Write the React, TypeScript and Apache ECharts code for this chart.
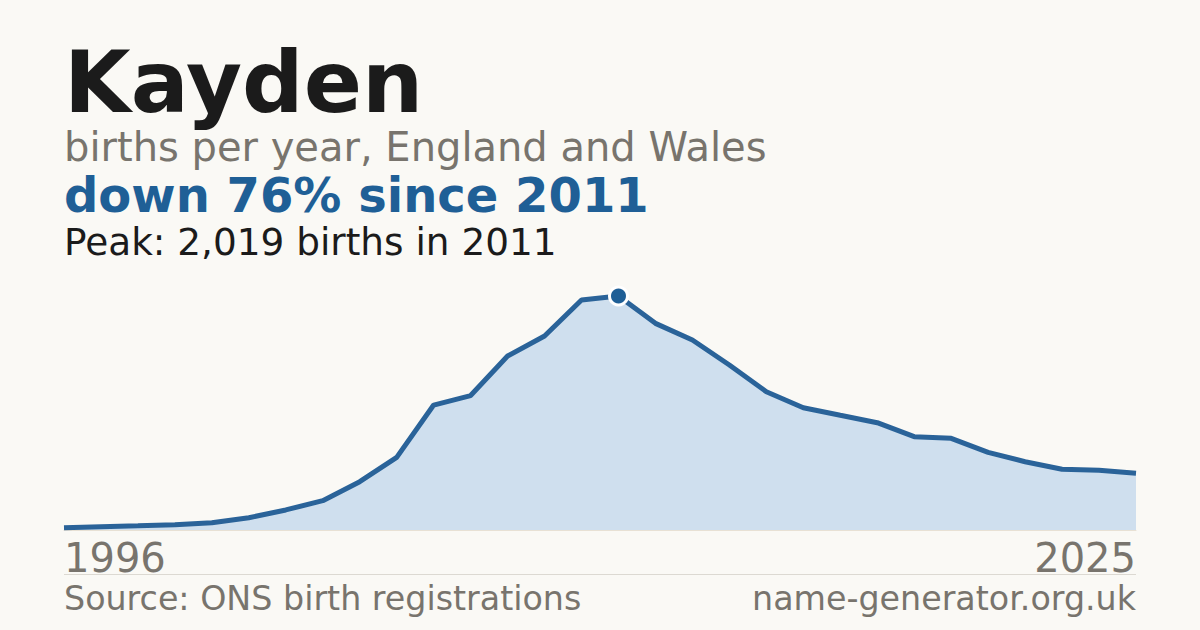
import React, { useEffect, useRef } from 'react';
import * as echarts from 'echarts';

const years = Array.from({ length: 30 }, (_, i) => String(1996 + i));
const births = [
  20, 29, 37, 46, 63, 106, 173, 253, 417, 627, 1078, 1160, 1501, 1674, 1984, 2019, 1783, 1639,
  1424, 1193, 1055, 990, 926, 805, 791, 670, 589, 524, 516, 490,
];
const peakYear = '2011';
const peakValue = 2019;

const BG = '#faf9f5';
const BLUE = '#1f5f96';
const GREY = '#78746d';
const FONT = '"DejaVu Sans", sans-serif';

const App = () => {
  const chartRef = useRef<HTMLDivElement>(null);

  useEffect(() => {
    if (!chartRef.current) return;
    const chart = echarts.init(chartRef.current, null, { renderer: 'svg' });

    chart.setOption({
      animation: false,
      backgroundColor: BG,
      grid: { left: 64, right: 64, top: 296, bottom: 100 },
      xAxis: {
        type: 'category',
        data: years,
        boundaryGap: false,
        axisLine: { show: true, lineStyle: { color: '#e8e1d4', width: 1 } },
        axisTick: { show: false },
        axisLabel: {
          interval: (idx: number) => idx === 0 || idx === years.length - 1,
          alignMinLabel: 'left',
          alignMaxLabel: 'right',
          color: GREY,
          fontSize: 40,
          fontFamily: FONT,
          margin: 8,
        },
      },
      yAxis: {
        type: 'value',
        min: 0,
        max: peakValue,
        show: false,
        splitLine: { show: false },
      },
      series: [
        {
          type: 'line',
          data: births,
          showSymbol: false,
          lineStyle: { color: '#2a6399', width: 5 },
          areaStyle: { color: '#cfdfee', opacity: 1 },
          markPoint: {
            symbol: 'circle',
            symbolSize: 18,
            label: { show: false },
            itemStyle: { color: BLUE, borderColor: '#ffffff', borderWidth: 3 },
            data: [{ coord: [peakYear, peakValue] }],
          },
        },
      ],
      graphic: [
        {
          type: 'text',
          left: 64,
          top: 39,
          style: { text: 'Kayden', fill: '#1b1b1b', font: `bold 86px ${FONT}`, lineHeight: 86 },
        },
        {
          type: 'text',
          left: 64,
          top: 127,
          style: { text: 'births per year, England and Wales', fill: GREY, font: `40px ${FONT}` },
        },
        {
          type: 'text',
          left: 64,
          top: 171,
          style: { text: 'down 76% since 2011', fill: BLUE, font: `bold 48px ${FONT}`, lineHeight: 48 },
        },
        {
          type: 'text',
          left: 64,
          top: 223,
          style: { text: 'Peak: 2,019 births in 2011', fill: '#1b1b1b', font: `37.4px ${FONT}` },
        },
        {
          type: 'line',
          shape: { x1: 64, y1: 574.5, x2: 1136, y2: 574.5 },
          style: { stroke: '#dcd9d2', lineWidth: 1 },
        },
        {
          type: 'text',
          left: 64,
          top: 582,
          style: { text: 'Source: ONS birth registrations', fill: GREY, font: `33.3px ${FONT}` },
        },
        {
          type: 'text',
          right: 64,
          top: 582,
          style: { text: 'name-generator.org.uk', fill: GREY, font: `33.3px ${FONT}` },
        },
      ],
    });

    return () => {
      chart.dispose();
    };
  }, []);

  return (
    <div
      ref={chartRef}
      style={{ width: 1200, height: 630, position: 'absolute', left: 0, top: 0 }}
    />
  );
};

export default App;
